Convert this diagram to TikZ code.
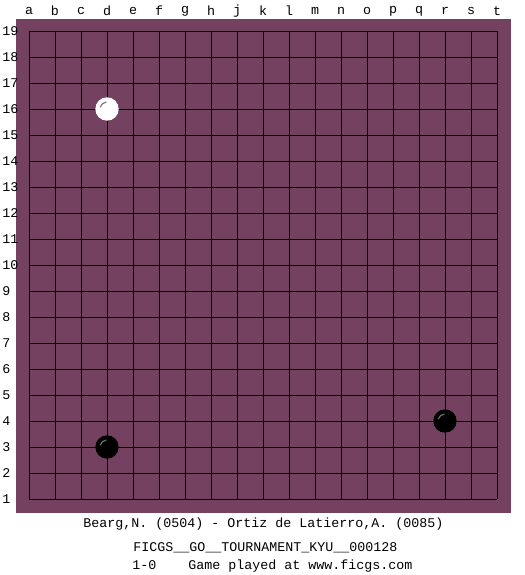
\documentclass[tikz,border=0pt]{standalone}
\usepackage{fontspec}
\setmonofont{Liberation Mono}
\definecolor{boardpurple}{RGB}{116,66,96}
\definecolor{hlgray}{RGB}{110,110,110}
\definecolor{hlpurple}{RGB}{150,110,140}
\begin{document}
\begin{tikzpicture}[x=0.75pt,y=-0.75pt,
  lbl/.style={font=\ttfamily\fontsize{10}{12}\selectfont,inner sep=0pt},
  info/.style={font=\ttfamily\fontsize{10}{12}\selectfont,inner sep=0pt,anchor=west},
  gridline/.style={line width=0.75pt,black},
  whitestone/.style={circle,fill=white,minimum size=17.5pt,inner sep=0pt},
  blackstone/.style={circle,fill=black,minimum size=17.5pt,inner sep=0pt},
  hilite/.style={line width=0.9pt}]
\useasboundingbox[fill=white] (0,0) rectangle (525,575);
\fill[boardpurple] (16,19) rectangle (511,513);
% grid
\foreach \i in {0,...,18}{
  \draw[gridline] (29+26*\i,31) -- (29+26*\i,499);
  \draw[gridline] (29,31+26*\i) -- (497,31+26*\i);
}
% column labels
\foreach \c [count=\i from 0] in {a,b,c,d,e,f,g,h,j,k,l,m,n,o,p,q,r,s,t}{
  \node[lbl] (col\c) at (29+26*\i,11) {\c};
}
% row labels
\foreach \r in {1,...,19}{
  \node[lbl,anchor=west] (row\r) at (2,499-26*\r+26) {\r};
}
% stones
\node[whitestone] (wd16) at (107,109) {};
\draw[hilite,hlpurple] (wd16.center) ++(195:7) arc[start angle=195,end angle=265,radius=7];
\node[blackstone] (bd3) at (107,447) {};
\draw[hilite,hlgray] (bd3.center) ++(195:7) arc[start angle=195,end angle=265,radius=7];
\node[blackstone] (br4) at (445,421) {};
\draw[hilite,hlgray] (br4.center) ++(195:7) arc[start angle=195,end angle=265,radius=7];
% info text
\node[info] (players) at (83,524) {Bearg,N. (0504) - Ortiz de Latierro,A. (0085)};
\node[info] (event) at (133,548) {FICGS\_\_GO\_\_TOURNAMENT\_KYU\_\_000128};
\node[info] (result) at (132,566) {1-0\ \ \ \ Game played at www.ficgs.com};
\end{tikzpicture}
\end{document}
